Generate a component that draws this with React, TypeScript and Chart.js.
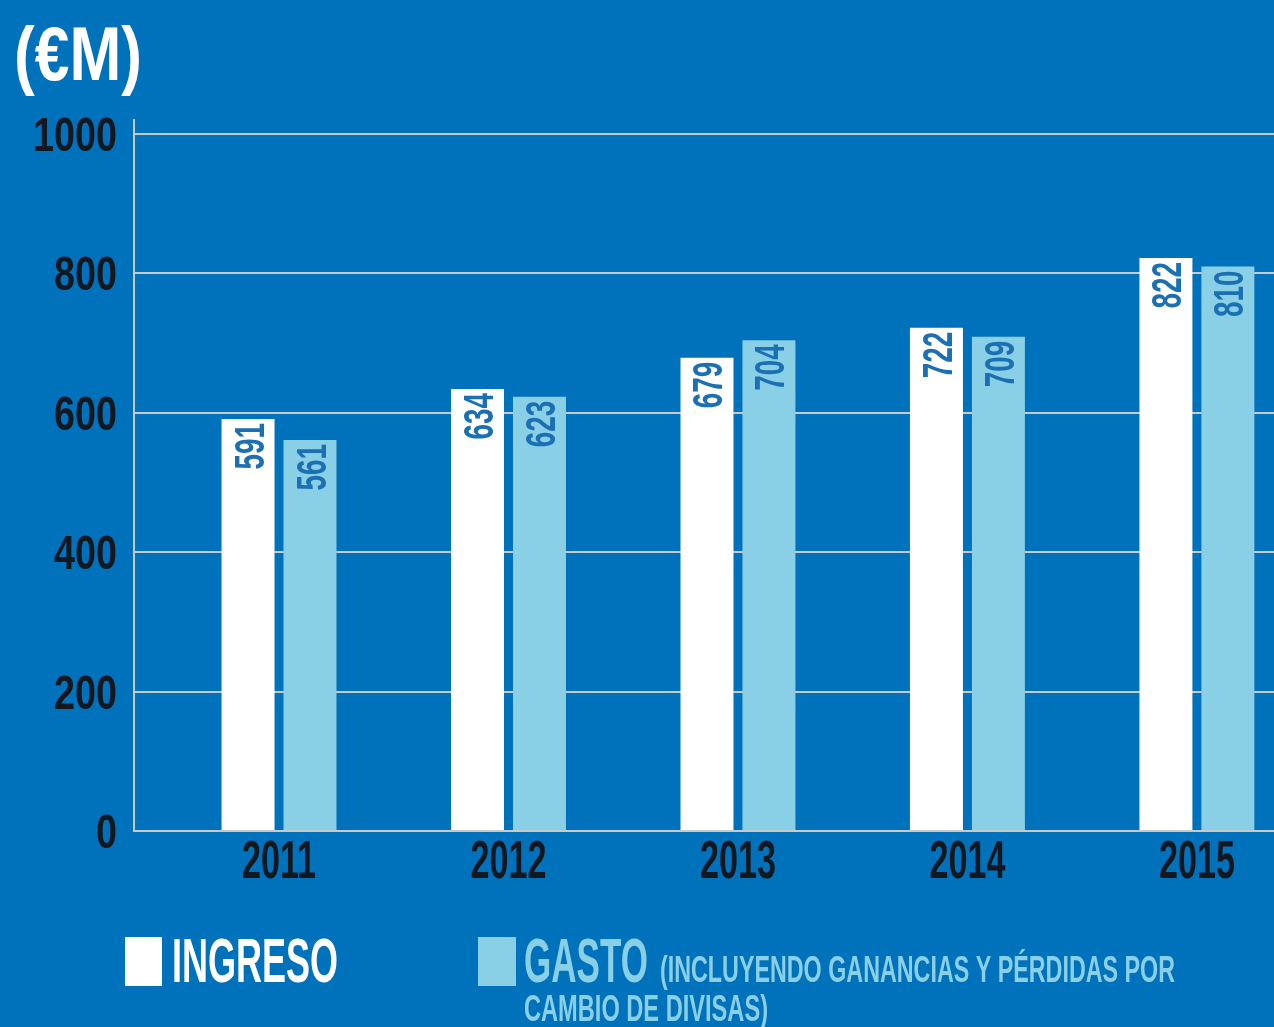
import React, { useEffect, useRef } from "react";
import { Chart, registerables } from "chart.js";

Chart.register(...registerables);

const years = ["2011", "2012", "2013", "2014", "2015"];
const ingreso = [591, 634, 679, 722, 822];
const gasto = [561, 623, 704, 709, 810];
const yTicks = [0, 200, 400, 600, 800, 1000];

const TITLE = "(€M)";
const LEGEND_INGRESO = "INGRESO";
const LEGEND_GASTO = "GASTO";
const LEGEND_NOTE_1 = "(INCLUYENDO GANANCIAS Y PÉRDIDAS POR";
const LEGEND_NOTE_2 = "CAMBIO DE DIVISAS)";

const BG = "#0071bb";
const WHITE = "#ffffff";
const LIGHT = "#89cfe6";
const DARK = "#111820";
const LABEL_BLUE = "#1b6fb3";
const GRID = "#c9c9c9";
const FONT = "'Liberation Sans Narrow', 'Liberation Sans', Arial, sans-serif";

function drawFit(
  ctx: CanvasRenderingContext2D,
  text: string,
  x: number,
  baseline: number,
  cap: number,
  width: number,
  color: string,
  align: CanvasTextAlign = "left"
) {
  const size = cap / 0.72;
  ctx.save();
  ctx.font = `bold ${size}px ${FONT}`;
  const w = ctx.measureText(text).width;
  const sx = width / w;
  ctx.translate(x, baseline);
  ctx.scale(sx, 1);
  ctx.textAlign = align;
  ctx.textBaseline = "alphabetic";
  ctx.fillStyle = color;
  ctx.fillText(text, 0, 0);
  ctx.restore();
}

function drawDigits(
  ctx: CanvasRenderingContext2D,
  text: string,
  x: number,
  baseline: number,
  cap: number,
  digitW: number,
  color: string,
  align: CanvasTextAlign
) {
  const size = cap / 0.72;
  ctx.save();
  ctx.font = `bold ${size}px ${FONT}`;
  const w0 = ctx.measureText("0").width;
  const sx = digitW / w0;
  ctx.translate(x, baseline);
  ctx.scale(sx, 1);
  ctx.textAlign = align;
  ctx.textBaseline = "alphabetic";
  ctx.fillStyle = color;
  ctx.fillText(text, 0, 0);
  ctx.restore();
}

const decorPlugin = {
  id: "decor",
  afterDraw(chart: any) {
    const ctx: CanvasRenderingContext2D = chart.ctx;
    const ys = chart.scales.y;
    const xs = chart.scales.x;

    ys.ticks.forEach((t: any) => {
      const py = ys.getPixelForValue(t.value);
      drawDigits(ctx, String(t.value), 117, py + 17, 35, 21, DARK, "right");
    });
    xs.ticks.forEach((t: any) => {
      const px = xs.getPixelForValue(t.value);
      drawDigits(ctx, years[t.value], px, 878, 38, 19, DARK, "center");
    });

    chart.data.datasets.forEach((ds: any, di: number) => {
      const meta = chart.getDatasetMeta(di);
      meta.data.forEach((bar: any, i: number) => {
        const v = ds.data[i].y;
        const cap = 31;
        ctx.save();
        ctx.translate(bar.x, bar.y + 4);
        ctx.rotate(-Math.PI / 2);
        const size = cap / 0.72;
        ctx.font = `bold ${size}px ${FONT}`;
        const w0 = ctx.measureText("0").width;
        ctx.scale(15.5 / w0, 1);
        ctx.textAlign = "right";
        ctx.textBaseline = "alphabetic";
        ctx.fillStyle = LABEL_BLUE;
        ctx.fillText(String(v), 0, cap / 2);
        ctx.restore();
      });
    });

    drawFit(ctx, TITLE, 14, 80, 55, 128, WHITE);

    ctx.fillStyle = WHITE;
    ctx.fillRect(125, 937, 37, 49);
    drawFit(ctx, LEGEND_INGRESO, 172, 982, 45, 166, WHITE);
    ctx.fillStyle = LIGHT;
    ctx.fillRect(478, 937, 38, 49);
    drawFit(ctx, LEGEND_GASTO, 524, 982, 45, 124, LIGHT);
    drawFit(ctx, LEGEND_NOTE_1, 660, 982, 27, 515, LIGHT);
    drawFit(ctx, LEGEND_NOTE_2, 524, 1021, 27, 244, LIGHT);
  },
};

export default function App() {
  const ref = useRef<HTMLCanvasElement | null>(null);

  useEffect(() => {
    if (!ref.current) return;
    const chart = new Chart(ref.current, {
      type: "bar",
      data: {
        datasets: [
          {
            label: LEGEND_INGRESO,
            data: ingreso.map((v, i) => ({ x: i, y: v })),
            backgroundColor: WHITE,
            borderWidth: 0,
            categoryPercentage: 0.54,
            barPercentage: 0.855,
          },
          {
            label: LEGEND_GASTO,
            data: gasto.map((v, i) => ({ x: i, y: v })),
            backgroundColor: LIGHT,
            borderWidth: 0,
            categoryPercentage: 0.54,
            barPercentage: 0.855,
          },
        ],
      },
      options: {
        responsive: false,
        animation: false,
        devicePixelRatio: 1,
        layout: { padding: { left: 134, top: 120, right: 0, bottom: 196 } },
        plugins: {
          legend: { display: false },
          tooltip: { enabled: false },
          title: { display: false },
        },
        scales: {
          x: {
            type: "linear",
            offset: false,
            min: -0.632,
            max: 4.336,
            afterBuildTicks: (scale: any) => {
              scale.ticks = years.map((_, i) => ({ value: i }));
            },
            ticks: { display: false },
            grid: { display: false, drawTicks: false, tickLength: 0, offset: false },
            border: { display: true, color: GRID, width: 2 },
          },
          y: {
            min: 0,
            max: 1020,
            afterBuildTicks: (scale: any) => {
              scale.ticks = yTicks.map((v) => ({ value: v }));
            },
            ticks: { display: false },
            grid: { color: GRID, lineWidth: 2, drawTicks: false, tickLength: 0 },
            border: { display: true, color: GRID, width: 2 },
          },
        },
      } as any,
      plugins: [decorPlugin],
    });
    return () => chart.destroy();
  }, []);

  return (
    <div
      style={{
        position: "fixed",
        left: 0,
        top: 0,
        width: 1274,
        height: 1027,
        background: BG,
        overflow: "hidden",
      }}
    >
      <canvas ref={ref} width={1274} height={1027} style={{ display: "block" }} />
    </div>
  );
}
